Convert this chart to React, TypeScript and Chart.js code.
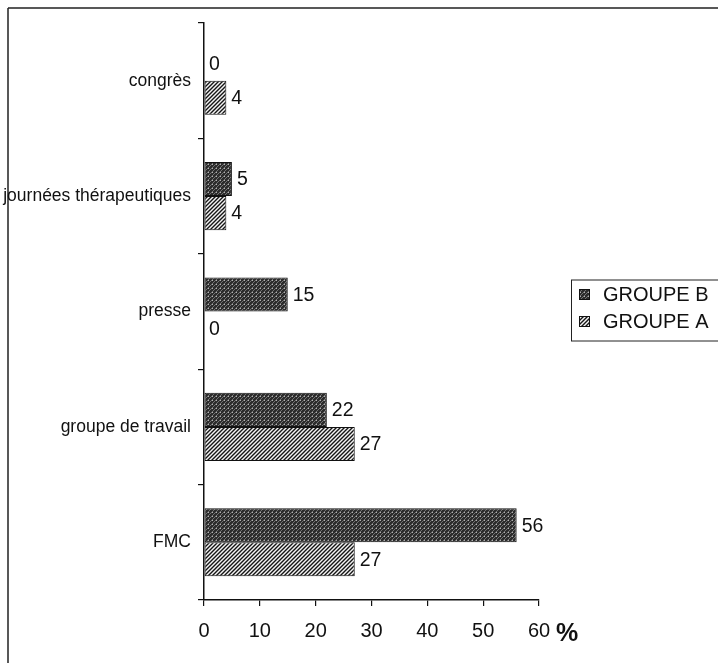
import React, { useEffect, useRef } from "react";
import { Chart, registerables } from "chart.js";

Chart.register(...registerables);

const categories = ["congrès", "journées thérapeutiques", "presse", "groupe de travail", "FMC"];
const groupeBLabel = "GROUPE B";
const groupeALabel = "GROUPE A";
const groupeB = [0, 5, 15, 22, 56];
const groupeA = [4, 4, 0, 27, 27];
const xMin = 0;
const xMax = 60;
const xStep = 10;
const unitLabel = "%";

const FONT = "'Liberation Sans', Arial, sans-serif";

function makePatternA(): CanvasPattern | string {
  const c = document.createElement("canvas");
  c.width = 4;
  c.height = 4;
  const g = c.getContext("2d");
  if (!g) return "#888";
  g.fillStyle = "#f4f4f4";
  g.fillRect(0, 0, 4, 4);
  g.strokeStyle = "#151515";
  g.lineWidth = 1.4;
  g.beginPath();
  g.moveTo(-1, 5);
  g.lineTo(5, -1);
  g.moveTo(-1, 1);
  g.lineTo(1, -1);
  g.moveTo(3, 5);
  g.lineTo(5, 3);
  g.stroke();
  const p = g.createPattern(c, "repeat");
  return p || "#888";
}

function makePatternB(): CanvasPattern | string {
  const c = document.createElement("canvas");
  c.width = 4;
  c.height = 4;
  const g = c.getContext("2d");
  if (!g) return "#444";
  g.fillStyle = "#2c2c2c";
  g.fillRect(0, 0, 4, 4);
  g.strokeStyle = "#7a7a7a";
  g.lineWidth = 0.9;
  g.beginPath();
  g.moveTo(-1, 5);
  g.lineTo(5, -1);
  g.stroke();
  g.fillStyle = "#b0b0b0";
  g.fillRect(0, 0, 1, 1);
  const p = g.createPattern(c, "repeat");
  return p || "#444";
}

const pageBorderPlugin = {
  id: "pageBorder",
  beforeDraw(chart: any) {
    const ctx = chart.ctx;
    ctx.save();
    ctx.fillStyle = "#ffffff";
    ctx.fillRect(0, 0, chart.width, chart.height);
    ctx.strokeStyle = "#222";
    ctx.lineWidth = 1.5;
    ctx.beginPath();
    ctx.moveTo(8, 8);
    ctx.lineTo(chart.width, 8);
    ctx.moveTo(8, 8);
    ctx.lineTo(8, chart.height);
    ctx.stroke();
    ctx.restore();
  },
};

const valueLabelPlugin = {
  id: "valueLabels",
  afterDatasetsDraw(chart: any) {
    const ctx = chart.ctx;
    ctx.save();
    ctx.font = `19.5px ${FONT}`;
    ctx.fillStyle = "#111";
    ctx.textAlign = "left";
    ctx.textBaseline = "middle";
    chart.data.datasets.forEach((ds: any, di: number) => {
      const meta = chart.getDatasetMeta(di);
      meta.data.forEach((el: any, i: number) => {
        ctx.fillText(String(ds.data[i]), el.x + 5, el.y + 1);
      });
    });
    ctx.restore();
  },
};

const unitPlugin = {
  id: "unitLabel",
  afterDraw(chart: any) {
    const xs = chart.scales.x;
    const ctx = chart.ctx;
    ctx.save();
    ctx.font = `bold 25px ${FONT}`;
    ctx.fillStyle = "#111";
    ctx.textAlign = "left";
    ctx.textBaseline = "middle";
    ctx.fillText(unitLabel, xs.right + 17, 634);
    ctx.restore();
  },
};

const legendPlugin = {
  id: "boxLegend",
  afterDraw(chart: any) {
    const ctx = chart.ctx;
    const area = chart.chartArea;
    const left = area.right + 32;
    const mid = (area.top + area.bottom) / 2;
    const top = mid - 32;
    const rowH = 27;
    ctx.save();
    ctx.strokeStyle = "#222";
    ctx.lineWidth = 1;
    ctx.strokeRect(left + 0.5, top + 0.5, 200, 61);
    ctx.font = `20px ${FONT}`;
    ctx.textAlign = "left";
    ctx.textBaseline = "middle";
    chart.data.datasets.forEach((ds: any, i: number) => {
      const cy = top + 15 + i * rowH;
      ctx.fillStyle = ds.backgroundColor;
      ctx.fillRect(left + 8, cy - 5.5, 11, 11);
      ctx.strokeStyle = "#111";
      ctx.strokeRect(left + 8.5, cy - 5, 10, 10);
      ctx.fillStyle = "#111";
      ctx.fillText(ds.label, left + 32, cy + 1);
    });
    ctx.restore();
  },
};

export default function App() {
  const ref = useRef<HTMLCanvasElement | null>(null);

  useEffect(() => {
    if (!ref.current) return;
    const chart = new Chart(ref.current, {
      type: "bar",
      data: {
        labels: categories,
        datasets: [
          {
            label: groupeBLabel,
            data: groupeB,
            backgroundColor: makePatternB() as any,
            borderColor: "#111",
            borderWidth: 1,
            borderSkipped: false,
          },
          {
            label: groupeALabel,
            data: groupeA,
            backgroundColor: makePatternA() as any,
            borderColor: "#111",
            borderWidth: 1,
            borderSkipped: false,
          },
        ],
      },
      options: {
        indexAxis: "y",
        responsive: false,
        animation: false,
        devicePixelRatio: 1,
        layout: { padding: { left: 0, top: 23, right: 179, bottom: 0 } },
        datasets: {
          bar: { barPercentage: 1, categoryPercentage: 0.59 },
        },
        plugins: {
          legend: { display: false },
          tooltip: { enabled: false },
        },
        scales: {
          x: {
            type: "linear",
            min: xMin,
            max: xMax,
            ticks: {
              stepSize: xStep,
              color: "#111",
              padding: 13,
              font: { size: 20, family: FONT },
            },
            grid: { drawOnChartArea: false, tickLength: 6, color: "#111", lineWidth: 1.2 },
            border: { display: true, color: "#111", width: 1.5 },
            afterFit(scale: any) {
              scale.height = 63;
            },
          },
          y: {
            type: "category",
            offset: true,
            ticks: {
              color: "#111",
              padding: 7,
              font: { size: 17.5, family: FONT },
            },
            grid: { drawOnChartArea: false, offset: true, tickLength: 6, color: "#111", lineWidth: 1.2 },
            border: { display: true, color: "#111", width: 1.5 },
            afterFit(scale: any) {
              scale.width = 204;
            },
          },
        },
      } as any,
      plugins: [pageBorderPlugin, valueLabelPlugin, unitPlugin, legendPlugin],
    });
    return () => chart.destroy();
  }, []);

  return (
    <div style={{ position: "fixed", left: 0, top: 0, width: 718, height: 663, background: "#fff" }}>
      <canvas ref={ref} width={718} height={663} style={{ display: "block", width: 718, height: 663 }} />
    </div>
  );
}
